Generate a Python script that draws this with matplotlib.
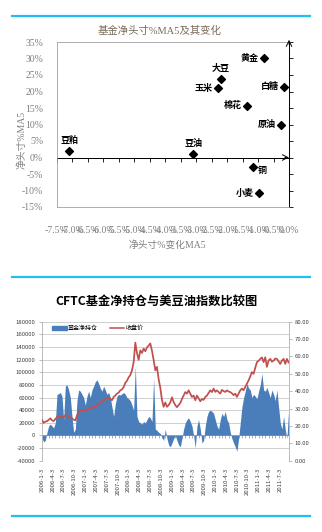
import numpy as np
import matplotlib
matplotlib.use("Agg")
import matplotlib.pyplot as plt
from matplotlib.lines import Line2D
from matplotlib.patches import Patch

plt.rcParams["font.family"] = ["Noto Sans CJK SC", "DejaVu Sans"]
plt.rcParams["axes.unicode_minus"] = False

SERIF_CJK = ["Liberation Serif", "Noto Sans CJK SC"]
CYAN = "#1ec0f0"
GRAY = "#808080"
BLUE = "#4a7ebb"
RED = "#c0504d"

# --- 散点: 基金净头寸%MA5 及其变化 ---
commodities = ["黄金", "大豆", "玉米", "白糖", "棉花", "原油", "豆粕", "豆油", "铜", "小麦"]
change_ma5 = [-0.81, -2.20, -2.29, -0.15, -1.36, -0.26, -7.11, -3.09, -1.15, -0.97]
net_ma5 = [30.0, 23.8, 21.0, 21.5, 15.7, 10.0, 2.0, 1.2, -3.0, -10.9]
# 标签位置: 左 / 上 / 右下
label_side = ["left", "top", "left", "left", "left", "left", "top", "top", "right", "left"]

x_ticks = [-7.5, -7.0, -6.5, -6.0, -5.5, -5.0, -4.5, -4.0, -3.5, -3.0, -2.5, -2.0, -1.5, -1.0, -0.5, 0.0]
y_ticks = [-15, -10, -5, 0, 5, 10, 15, 20, 25, 30, 35]

# --- CFTC 基金净持仓 (千手) 与美豆油收盘价, 两周一点 ---
net_position = [
    -5, -10, -8, 5, 15, 18, 15, 12, 20, 65, 66, 68, 62, 25, 78, 80, 72, 60, 30, 5,
    10, 55, 72, 70, 65, 60, 48, 62, 70, 60, 72, 78, 85, 88, 82, 75, 70, 78, 72, 65,
    68, 60, 45, 30, 50, 62, 65, 64, 66, 68, 65, 60, 58, 55, 48, 40, 110, 30, 22, 20,
    18, 22, 20, 25, 30, 28, 22, 90, 10, 8, 5, 3, -3, -8, 10, -5, -15, -18, -12, -5,
    0, -8, -15, -18, -5, 10, 20, 25, 28, 22, 15, 0, -20, 15, 25, 10, -12, -8, 15, 30,
    38, 40, 38, 35, 25, 15, 10, 25, 35, 30, 38, 25, 20, 5, -5, -12, -18, -25, -5, 20,
    45, 60, 70, 82, 75, 72, 60, 65, 62, 58, 70, 80, 98, 72, 70, 76, 68, 60, 72, 65,
    55, 72, 45, 20, 10, 30, 10, -5, 40,
]
close_price = [
    23.4, 21.8, 22.5, 22.8, 23.5, 24.4, 23.2, 22.8, 24.0, 25.0, 25.5, 25.3, 25.8, 25.0, 26.0, 26.3, 25.2, 25.0, 24.4, 23.6,
    23.2, 26.0, 27.8, 29.0, 28.6, 29.5, 28.8, 29.2, 30.2, 30.6, 30.0, 31.4, 31.0, 32.0, 32.6, 33.0, 33.8, 34.8, 35.5, 36.3,
    36.0, 35.6, 34.8, 36.7, 37.5, 38.6, 39.2, 40.5, 41.0, 42.4, 44.8, 46.0, 48.0, 49.2, 52.0, 56.5, 68.0, 62.0, 58.0, 63.5,
    62.0, 64.5, 63.0, 65.2, 66.2, 67.5, 63.3, 58.0, 52.0, 54.0, 47.0, 42.0, 35.0, 31.0, 33.5, 31.0, 32.0, 33.5, 36.5, 33.8,
    32.0, 30.8, 32.0, 33.2, 35.5, 37.5, 39.5, 38.6, 40.5, 38.6, 36.7, 37.5, 34.8, 37.5, 35.8, 34.2, 35.5, 35.0, 36.7, 37.5,
    39.0, 40.5, 39.5, 41.5, 39.6, 40.5, 39.5, 38.6, 40.8, 40.0, 39.6, 40.5, 39.8, 39.5, 38.8, 37.7, 38.6, 36.7, 38.6, 40.5,
    41.5, 40.5, 42.5, 44.3, 46.2, 48.5, 51.0, 50.0, 53.5, 56.7, 57.5, 58.6, 59.5, 56.7, 59.5, 54.0, 57.6, 58.6, 57.0, 57.6,
    58.8, 58.6, 57.2, 55.7, 57.6, 58.6, 55.7, 58.6, 56.5,
]
date_labels = [
    "2006-1-3", "2006-4-3", "2006-7-3", "2006-10-3", "2007-1-3", "2007-4-3", "2007-7-3", "2007-10-3",
    "2008-1-3", "2008-4-3", "2008-7-3", "2008-10-3", "2009-1-3", "2009-4-3", "2009-7-3", "2009-10-3",
    "2010-1-3", "2010-4-3", "2010-7-3", "2010-10-3", "2011-1-3", "2011-4-3", "2011-7-3",
]
left_ticks = [-40000, -20000, 0, 20000, 40000, 60000, 80000, 100000, 120000, 140000, 160000, 180000]
right_ticks = [0, 10, 20, 30, 40, 50, 60, 70, 80]

W, H = 322, 532
fig = plt.figure(figsize=(W / 100, H / 100), dpi=100)
fig.patch.set_facecolor("white")

# 分隔线
for y in (16, 277, 516):
    fig.add_artist(Line2D([12 / W, 310 / W], [1 - y / H, 1 - y / H], color=CYAN, lw=1.6))

# ---------------- 图 1 ----------------
ax1 = fig.add_axes([57 / W, 1 - 207 / H, 232 / W, 165 / H])
ax1.set_xlim(-7.5, 0)
ax1.set_ylim(-15, 35)
ax1.scatter(change_ma5, net_ma5, marker="D", s=16, color="black", zorder=3)
for name, xv, yv, side in zip(commodities, change_ma5, net_ma5, label_side):
    if side == "left":
        off, ha, va = (-4, 0), "right", "center"
    elif side == "top":
        off, ha, va = (0, 4), "center", "bottom"
    else:
        off, ha, va = (3, -2), "left", "center"
    ax1.annotate(name, (xv, yv), xytext=off, textcoords="offset points",
                 ha=ha, va=va, fontsize=6.5, fontweight="bold", color="black")

for s in ["top", "left", "bottom"]:
    ax1.spines[s].set_color("#a0a0a0")
    ax1.spines[s].set_linewidth(0.6)
ax1.spines["right"].set_color("black")
ax1.spines["right"].set_linewidth(0.7)

ax1.set_yticks(y_ticks)
ax1.set_yticklabels([f"{v}%" for v in y_ticks], family=SERIF_CJK, fontsize=7, color=GRAY)
ax1.tick_params(axis="y", left=False, right=True, labelleft=True, labelright=False,
                direction="out", length=3, width=0.6, pad=7)
ax1.set_xticks(x_ticks)
ax1.set_xticklabels([f"{v:.1f}%" for v in x_ticks], family=SERIF_CJK, fontsize=7, color=GRAY)
ax1.tick_params(axis="x", bottom=False, pad=10)

# y=0 处的横轴
ax1.axhline(0, color="black", lw=0.7, zorder=2)
zero_ax = ax1.secondary_xaxis(location=0.3)
zero_ax.set_xticks(x_ticks)
zero_ax.set_xticklabels([])
zero_ax.tick_params(direction="out", length=3, width=0.6)
zero_ax.spines["bottom"].set_linewidth(0.7)
ax1.annotate("", xy=(1.012, 0.3), xytext=(0.97, 0.3), xycoords="axes fraction",
             arrowprops=dict(arrowstyle="->", lw=0.7, color="black"), annotation_clip=False)
ax1.annotate("", xy=(1.0, 1.03), xytext=(1.0, 0.97), xycoords="axes fraction",
             arrowprops=dict(arrowstyle="->", lw=0.7, color="black"), annotation_clip=False)

fig.text(160 / W, 1 - 31 / H, "基金净头寸%MA5及其变化", family=SERIF_CJK, fontsize=7.5,
         color="#7a6a5a", ha="center", va="center")
fig.text(22 / W, 1 - 140 / H, "净头寸%MA5", family=SERIF_CJK, fontsize=7, color=GRAY,
         rotation=90, ha="center", va="center")
fig.text(167 / W, 1 - 245 / H, "净头寸%变化MA5", family=SERIF_CJK, fontsize=7, color=GRAY,
         ha="center", va="center")

# ---------------- 图 2 ----------------
weeks = np.arange(0, 2 * len(net_position), 2)
net_abs = np.array(net_position) * 1000

ax2 = fig.add_axes([42 / W, 1 - 460.7 / H, 247 / W, 139 / H])
ax2.set_xlim(0, 296.5)
ax2.set_ylim(-40000, 180000)
ax2.fill_between(weeks, 0, net_abs, color=BLUE, lw=0, zorder=2)
ax2.axhline(0, color="#909090", lw=0.5, zorder=2.5)
ax2.set_yticks(left_ticks)
ax2.set_yticklabels([str(v) for v in left_ticks], fontsize=4.3, color="#404040")
ax2.yaxis.grid(True, color="#c8c8c8", lw=0.6, zorder=0)
ax2.set_axisbelow(True)
ax2.tick_params(axis="y", length=2, width=0.5, pad=3, color="#a0a0a0")
ax2.set_xticks(np.arange(0, 13 * len(date_labels), 13))
ax2.set_xticklabels(date_labels, rotation=90, fontsize=4.3, color="#404040")
ax2.tick_params(axis="x", length=0, pad=5)
for s in ax2.spines.values():
    s.set_color("#b0b0b0")
    s.set_linewidth(0.6)
ax2.spines["top"].set_visible(False)
ax2.spines["bottom"].set_visible(False)

cat_ax = ax2.secondary_xaxis(location=40000 / 220000)
cat_ax.set_xticks(np.arange(0, 297, 4))
cat_ax.set_xticklabels([])
cat_ax.tick_params(direction="out", length=1.8, width=0.5, color="#909090")
cat_ax.spines["bottom"].set_color("#909090")
cat_ax.spines["bottom"].set_linewidth(0.5)

ax3 = ax2.twinx()
ax3.set_ylim(0, 80)
ax3.plot(weeks, close_price, color=RED, lw=1.25, zorder=3)
ax3.set_yticks(right_ticks)
ax3.set_yticklabels([f"{v:.2f}" for v in right_ticks], fontsize=4.3, color="#404040")
ax3.tick_params(axis="y", length=2, width=0.5, pad=2, color="#a0a0a0")
for s in ax3.spines.values():
    s.set_visible(False)

handles = [Patch(color=BLUE, label="基金净持仓"), Line2D([], [], color=RED, lw=1.1, label="收盘价")]
ax3.legend(handles=handles, loc="upper left", bbox_to_anchor=(0.02, 1.01), ncol=2,
           frameon=False, fontsize=4.3, handlelength=2.4, handleheight=0.6,
           columnspacing=2.0, handletextpad=0.2)

fig.text(157 / W, 1 - 302 / H, "CFTC基金净持仓与美豆油指数比较图", fontsize=8.8,
         fontweight="bold", ha="center", va="center")

fig.savefig("out.png", dpi=100)
